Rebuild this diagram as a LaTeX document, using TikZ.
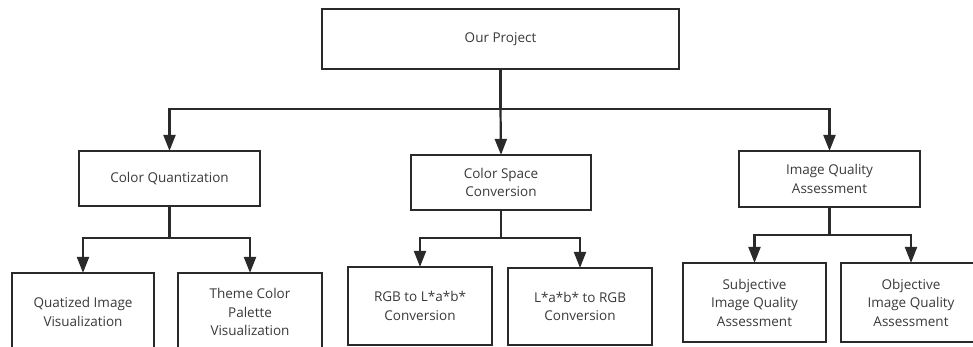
\documentclass[tikz,border=0pt]{standalone}
\usepackage{fontspec}
\setmainfont{Open Sans}
\usetikzlibrary{arrows.meta}
\definecolor{linegray}{HTML}{2A2A2A}
\definecolor{textgray}{HTML}{3A3A3A}
\tikzset{
  box/.style={draw=linegray, line width=2.2pt, fill=white, align=center,
    inner sep=0pt, text=textgray, font=\fontsize{13.5}{18.5}\selectfont},
  link/.style={draw=linegray, line width=2.2pt},
  arr/.style={link, -{Triangle[length=16pt, width=12pt]}, shorten >=-1pt},
}
\begin{document}
\begin{tikzpicture}[x=1pt, y=-1pt]
  \useasboundingbox (0,0) rectangle (973,347);
  \clip (0,0) rectangle (973,347);
  \fill[white] (0,0) rectangle (973,347);

  % root
  \node[box, minimum width=357pt, minimum height=60pt] (root) at (500.5,39) {Our Project};

  % second level
  \node[box, minimum width=181pt, minimum height=55pt] (cq)  at (169.5,178.5) {Color Quantization};
  \node[box, minimum width=180pt, minimum height=55pt] (csc) at (501,182.5) {Color Space\\Conversion};
  \node[box, minimum width=181pt, minimum height=56pt] (iqa) at (829.5,179) {Image Quality\\Assessment};

  % third level
  \node[box, minimum width=142pt, minimum height=78pt] (qiv) at (83,312) {Quatized Image\\Visualization};
  \node[box, minimum width=144pt, minimum height=78pt] (tcp) at (250,312) {Theme Color\\Palette\\Visualization};
  \node[box, minimum width=144pt, minimum height=78pt] (rgb) at (420,306) {RGB to L*a*b*\\Conversion};
  \node[box, minimum width=144pt, minimum height=77pt] (lab) at (580,306.5) {L*a*b* to RGB\\Conversion};
  \node[box, minimum width=143pt, minimum height=79pt] (sub) at (754.5,302.5) {Subjective\\Image Quality\\Assessment};
  \node[box, minimum width=140pt, minimum height=79pt] (obj) at (911,302.5) {Objective\\Image Quality\\Assessment};

  % branch points
  \coordinate (j0) at (500.5,109);
  \coordinate (j1) at (169.5,238);
  \coordinate (j2) at (501,238);
  \coordinate (j3) at (829.5,235);

  % connectors from the root
  \draw[link] (root.south) -- (j0);
  \draw[arr] (j0) -| (cq.north);
  \draw[arr] (j0) -- (csc.north);
  \draw[arr] (j0) -| (iqa.north);

  % connectors to the leaves
  \draw[link] (cq.south) -- (j1);
  \draw[arr] (j1) -| (qiv.north);
  \draw[arr] (j1) -| (tcp.north);

  \draw[link] (csc.south) -- (j2);
  \draw[arr] (j2) -| (rgb.north);
  \draw[arr] (j2) -| (lab.north);

  \draw[link] (iqa.south) -- (j3);
  \draw[arr] (j3) -| (sub.north);
  \draw[arr] (j3) -| (obj.north);
\end{tikzpicture}
\end{document}
